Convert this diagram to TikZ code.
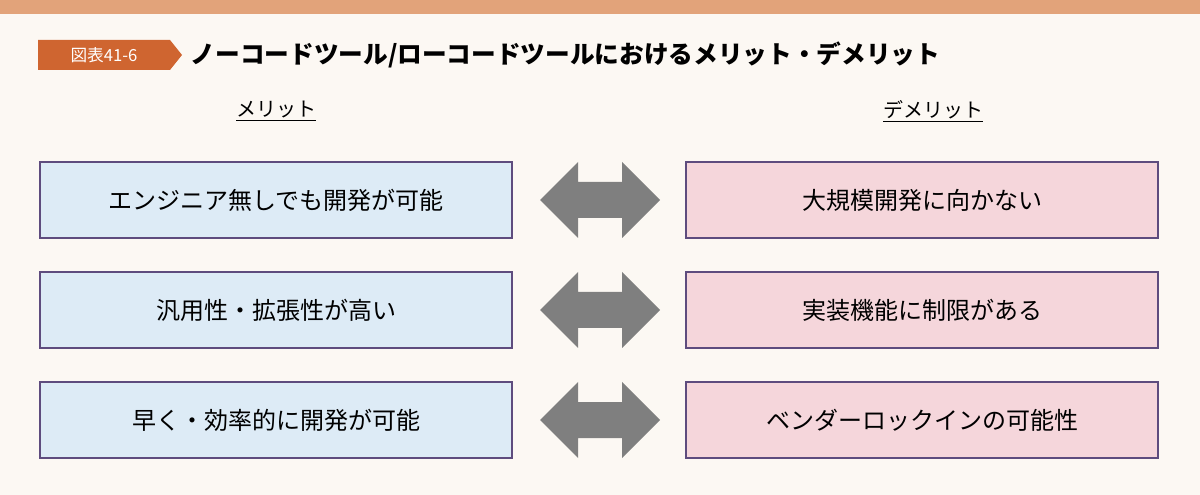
\documentclass[tikz,border=0pt]{standalone}
\usepackage{fontspec}
\setmainfont{Noto Sans CJK JP}
\usetikzlibrary{positioning}
\definecolor{bgc}{HTML}{FCF8F3}
\definecolor{barc}{HTML}{E2A37A}
\definecolor{tagc}{HTML}{CF6530}
\definecolor{meritc}{HTML}{DDEBF6}
\definecolor{demeritc}{HTML}{F5D6DB}
\definecolor{edgec}{HTML}{5E4C7E}
\definecolor{arrowc}{HTML}{7F7F7F}
\begin{document}
\begin{tikzpicture}[x=0.75pt,y=-0.75pt,
    itembox/.style={rectangle, draw=edgec, line width=1pt, minimum width=354pt, minimum height=57pt, font=\fontsize{18}{20}\selectfont},
    merit/.style={itembox, fill=meritc},
    demerit/.style={itembox, fill=demeritc},
    head/.style={font=\fontsize{15}{17}\selectfont}]
        \fill[bgc] (0,0) rectangle (1200,495);
        \useasboundingbox (0,0) rectangle (1200,495);
        \fill[barc] (0,0) rectangle (1200,14);
        % title
        \fill[tagc] (38,40) -- (170,40) -- (182,55) -- (170,70) -- (38,70) -- cycle;
        \node[text=white, font=\fontsize{12.5}{14}\selectfont] (tag) at (104,55) {図表41-6};
        \node[anchor=west, font=\fontsize{18.5}{20}\selectfont\bfseries] (title) at (186,55) {ノーコードツール/ローコードツールにおけるメリット・デメリット};
        \node[head] (mhead) at (276,111) {\underline{メリット}};
        \node[head] (dhead) at (933,111) {\underline{デメリット}};
        % boxes
        \node[merit] (m1) at (276,200) {エンジニア無しでも開発が可能};
        \node[merit] (m2) at (276,310) {汎用性・拡張性が高い};
        \node[merit] (m3) at (276,420) {早く・効率的に開発が可能};
        \node[demerit] (d1) at (922,200) {大規模開発に向かない};
        \node[demerit] (d2) at (922,310) {実装機能に制限がある};
        \node[demerit] (d3) at (922,420) {ベンダーロックインの可能性};
        % arrows
        \foreach \y in {200,310,420}{
            \fill[arrowc] (540,\y) -- (578,\y-38) -- (578,\y-18) -- (622,\y-18) -- (622,\y-38)
                -- (660,\y) -- (622,\y+38) -- (622,\y+18) -- (578,\y+18) -- (578,\y+38) -- cycle;
        }
\end{tikzpicture}
\end{document}
